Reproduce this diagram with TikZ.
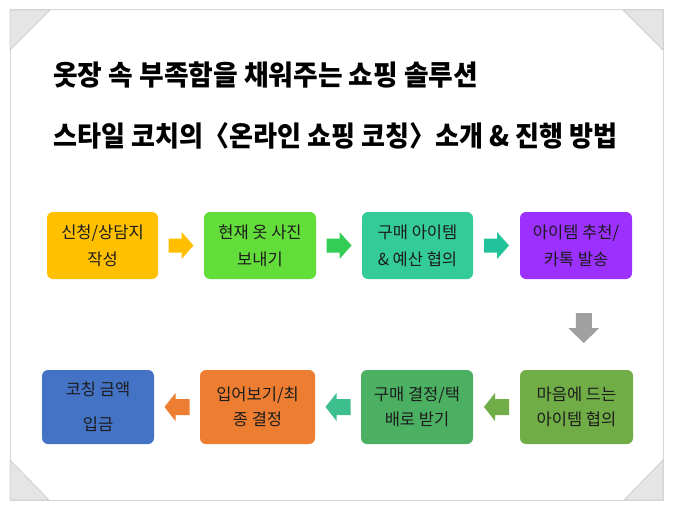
\documentclass[tikz,border=0pt]{standalone}
\usepackage{fontspec}
\usepackage{graphicx}
\setmainfont{Noto Sans CJK KR}
\newfontfamily\heavyfont{Noto Sans CJK KR Black}
\usetikzlibrary{calc}
\definecolor{framec}{HTML}{D6D6D6}
\definecolor{cornerc}{HTML}{E5E5E5}
\definecolor{cornerl}{HTML}{CFCFCF}
\definecolor{txt}{HTML}{1C1C1C}
\definecolor{c1}{HTML}{FFC000}
\definecolor{c2}{HTML}{62DD3A}
\definecolor{c3}{HTML}{33CC99}
\definecolor{c4}{HTML}{9B30FF}
\definecolor{c5}{HTML}{4472C4}
\definecolor{c6}{HTML}{ED7D31}
\definecolor{c7}{HTML}{4BB062}
\definecolor{c8}{HTML}{70AD47}
\definecolor{a1}{HTML}{FFBF00}
\definecolor{a2}{HTML}{33CC55}
\definecolor{a3}{HTML}{22C29A}
\definecolor{a4}{HTML}{70AD47}
\definecolor{a5}{HTML}{3CBF8C}
\definecolor{a6}{HTML}{ED7D31}
\definecolor{a9}{HTML}{A0A0A0}
\tikzset{
  stepbox/.style={rounded corners=6pt, inner sep=0pt, align=center, text=txt},
  rowone/.style={stepbox, minimum height=67pt, font=\fontsize{16.5}{27}\selectfont},
  rowtwo/.style={stepbox, minimum height=74pt, font=\fontsize{16.5}{25}\selectfont},
  titletext/.style={anchor=west, inner sep=0pt, text=black, font=\fontsize{28}{30}\selectfont\heavyfont},
  corner/.style={fill=cornerc, draw=cornerl, line width=0.8pt},
  pics/barrow/.style n args={4}{code={
    \path[pic actions] (-#1/2,-#3/2) -- (#1/2-#4,-#3/2) -- (#1/2-#4,-#2/2) -- (#1/2,0)
      -- (#1/2-#4,#2/2) -- (#1/2-#4,#3/2) -- (-#1/2,#3/2) -- cycle;
  }}
}
\begin{document}
\begin{tikzpicture}[x=1pt,y=-1pt]
\useasboundingbox (0,0) rectangle (674,511);
\fill[white] (0,0) rectangle (674,511);
% page frame
\draw[framec, line width=1pt, fill=white] (10,10) rectangle (663,500);
\path[corner] (10,10) -- (50,10) -- (10,50) -- cycle;
\path[corner] (623,10) -- (663,10) -- (663,50) -- cycle;
\path[corner] (10,460) -- (10,500) -- (49,500) -- cycle;
\path[corner] (663,460) -- (663,500) -- (624,500) -- cycle;
% titles
\node[titletext] (t1) at (53,75) {\resizebox{425pt}{\height}{옷장 속 부족함을 채워주는 쇼핑 솔루션}};
\node[titletext] (t2) at (53,136) {\resizebox{564pt}{\height}{스타일 코치의〈온라인 쇼핑 코칭〉소개 \& 진행 방법}};
% row 1
\node[rowone, fill=c1, minimum width=111pt] (b1) at (102.5,245.5) {신청/상담지\\작성};
\node[rowone, fill=c2, minimum width=112pt] (b2) at (260,245.5) {현재 옷 사진\\보내기};
\node[rowone, fill=c3, minimum width=111pt] (b3) at (417.5,245.5) {구매 아이템\\\& 예산 협의};
\node[rowone, fill=c4, minimum width=112pt] (b4) at (576,245.5) {아이템 추천/\\카톡 발송};
% row 2
\node[rowtwo, fill=c5, minimum width=112pt, font=\fontsize{16.5}{35}\selectfont] (b5) at (98,407) {코칭 금액\\입금};
\node[rowtwo, fill=c6, minimum width=115pt] (b6) at (257.5,407) {입어보기/최\\종 결정};
\node[rowtwo, fill=c7, minimum width=112pt] (b7) at (417,407) {구매 결정/택\\배로 받기};
\node[rowtwo, fill=c8, minimum width=113pt] (b8) at (576.5,407) {마음에 드는\\아이템 협의};
% arrows
\pic[fill=a1] at ($(b1.east)!0.5!(b2.west)$) {barrow={25}{27}{14}{12}};
\pic[fill=a2] at ($(b2.east)!0.5!(b3.west)$) {barrow={25}{27}{14}{12}};
\pic[fill=a3] at ($(b3.east)!0.5!(b4.west)$) {barrow={25}{27}{14}{12}};
\pic[fill=a9, rotate=-90] at ($(b4.south)!0.5!(b8.north)+(7.5,3.5)$) {barrow={30}{31}{16}{15}};
\pic[fill=a4, rotate=180] at ($(b8.west)!0.5!(b7.east)$) {barrow={25}{28}{16}{11}};
\pic[fill=a5, rotate=180] at ($(b7.west)!0.5!(b6.east)$) {barrow={25}{28}{16}{11}};
\pic[fill=a6, rotate=180] at ($(b6.west)!0.5!(b5.east)$) {barrow={25}{28}{16}{11}};
\end{tikzpicture}
\end{document}
